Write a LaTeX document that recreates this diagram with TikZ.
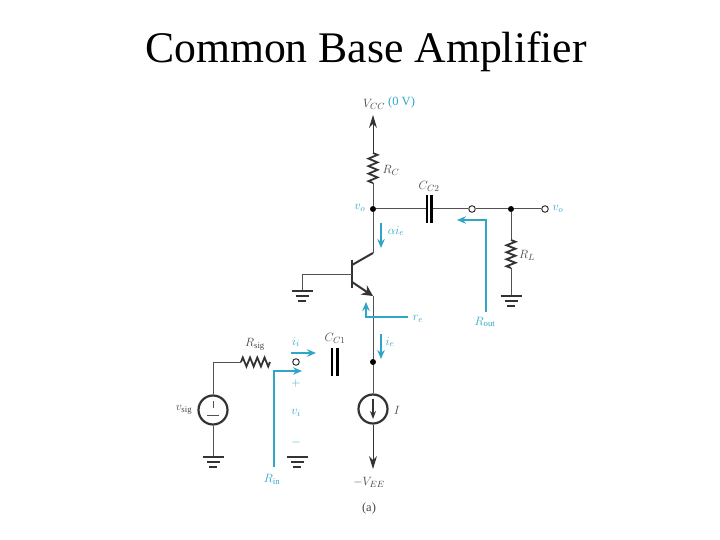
\documentclass[tikz,border=0pt]{standalone}
\usepackage{fontspec}
\setmainfont{Liberation Serif}
\usetikzlibrary{arrows.meta,decorations.pathmorphing}
\definecolor{wireblue}{HTML}{2FA6C8}
\definecolor{ink}{HTML}{333333}
\tikzset{
  wire/.style={draw=ink!85,line width=1pt},
  heavy/.style={draw=ink,line width=2pt},
  zig/.style={draw=ink,line width=1.8pt,decorate,decoration={zigzag,amplitude=4.5pt,segment length=#1}},
  flow/.style={draw=wireblue,line width=1.15pt,-{Stealth[length=9pt,width=7.5pt]}},
  supply/.style={draw=ink,line width=1pt,-{Stealth[length=13pt,width=8pt]}},
  dotn/.style={circle,fill=black,inner sep=0pt,minimum size=6pt},
  opend/.style={circle,draw=ink,fill=white,line width=1pt,inner sep=0pt,minimum size=6.5pt},
  srcn/.style={circle,draw=ink,line width=2.2pt,fill=white,inner sep=0pt,minimum size=29pt},
  plate/.style={draw=black,line width=2.4pt},
  lab/.style={inner sep=0pt,text=ink!90,font=\fontsize{12.5}{14}\selectfont},
  blab/.style={inner sep=0pt,text=wireblue,font=\fontsize{12.5}{14}\selectfont},
  gbar/.style={draw=ink,line width=1.8pt},
}
\newcommand{\gnd}[2]{%
  \draw[gbar] (#1-10.5,#2) -- (#1+10.5,#2);
  \draw[gbar,line width=2.2pt] (#1-6.5,#2+5) -- (#1+6.5,#2+5);
  \draw[gbar,line width=2.2pt] (#1-4,#2+10) -- (#1+4,#2+10);
}
\begin{document}
\begin{tikzpicture}[x=1pt,y=-1pt]
\useasboundingbox (0,0) rectangle (720,540);
\node[inner sep=0pt,font=\fontsize{43.7}{46}\selectfont,text=black] (title) at (366,52) {Common Base Amplifier};

% nodes and coordinates
\coordinate (vcc) at (373,115);
\coordinate (rct) at (373,153);
\coordinate (rcb) at (373,183);
\node[dotn] (vo) at (373,209) {};
\coordinate (col) at (373,253);
\coordinate (colb) at (352,265);
\coordinate (bt) at (352,260);
\coordinate (bb) at (352,288);
\coordinate (bm) at (352,274);
\coordinate (bg) at (302,274);
\coordinate (bgd) at (302,291);
\coordinate (emb) at (352,282);
\coordinate (em) at (373,296);
\node[dotn] (ej) at (373,362) {};
\node[srcn] (isrc) at (373,409) {};
\coordinate (vee) at (373,469);
\node[srcn] (vsrc) at (213,410) {};
\coordinate (vtop) at (213,362);
\coordinate (rst) at (241,362);
\coordinate (rse) at (270,362);
\coordinate (vgd) at (213,457);
\node[opend] (in) at (296,362) {};
\coordinate (c2a) at (427,209);
\coordinate (c2b) at (431,209);
\node[opend] (o1) at (472,209) {};
\node[dotn] (oj) at (511,209) {};
\node[opend] (o2) at (545,209) {};
\coordinate (rlt) at (511,240);
\coordinate (rlb) at (511,268);
\coordinate (rlg) at (511,296);

% wires
\draw[supply] (rct) -- (vcc);
\draw[wire] (rcb) -- (vo);
\draw[wire] (vo) -- (col);
\draw[heavy] (col) -- (colb);
\draw[heavy,line width=2.2pt] (bt) -- (bb);
\draw[wire] (bg) -- (bm);
\draw[wire] (bg) -- (bgd);
\draw[heavy,-{Stealth[length=11pt,width=11pt]}] (emb) -- (em);
\draw[wire] (em) -- (ej);
\draw[wire] (ej) -- (isrc);
\draw[supply] (isrc) -- (vee);
\draw[wire] (vsrc) -- (vtop) -- (rst);
\draw[wire] (vsrc) -- (vgd);
\draw[wire] (vo) -- (c2a);
\draw[wire] (c2b) -- (o1);
\draw[wire] (o1) -- (oj);
\draw[wire] (oj) -- (o2);
\draw[wire] (oj) -- (rlt);
\draw[wire] (rlb) -- (rlg);

% resistors
\draw[zig=7.5pt] (rct) -- (rcb);
\draw[zig=7pt] (rlt) -- (rlb);
\draw[zig=7.25pt] (rst) -- (rse);

% capacitors
\draw[plate] (427,195) -- (427,223);
\draw[plate] (431.5,195) -- (431.5,223);
\draw[plate] (332,348) -- (332,376);
\draw[plate] (337.5,348) -- (337.5,376);

% grounds
\gnd{302}{291}
\gnd{511}{296}
\gnd{213}{457}
\gnd{297}{457}

% source interiors
\draw[wire] (213,401) -- (213,408);
\draw[wire] (207,415) -- (219,415);
\draw[draw=ink,line width=1.2pt,-{Stealth[length=8pt,width=6pt]}] (373,399) -- (373,419);

% blue current and resistance markers
\draw[flow] (381,223) -- (381,248);
\draw[flow] (381,334) -- (381,359);
\draw[flow] (291,353) -- (316,353);
\coordinate (rea) at (408,317);
\coordinate (reb) at (366,317);
\coordinate (rec) at (366,302);
\draw[flow] (rea) -- (reb) -- (rec);
\coordinate (ra) at (486,312);
\coordinate (rb) at (486,220);
\coordinate (rc) at (457,220);
\draw[flow] (ra) -- (rb) -- (rc);
\coordinate (ia) at (274,467);
\coordinate (ib) at (274,371);
\coordinate (ic) at (302,371);
\draw[flow] (ia) -- (ib) -- (ic);

% labels
\node[lab,anchor=west] (lvcc) at (363,104) {$V_{CC}$};
\node[blab,anchor=west] (l0v) at (388,102) {(0 V)};
\node[lab] (lrc) at (391,170) {$R_C$};
\node[lab] (lcc2) at (429,186) {$C_{C2}$};
\node[blab] (lvo) at (360,208) {$v_o$};
\node[blab] (lvo2) at (558,209) {$v_o$};
\node[blab] (lai) at (396,231) {$\alpha i_e$};
\node[lab] (lrl) at (527,255) {$R_L$};
\node[blab] (lre) at (418,319) {$r_e$};
\node[blab] (lrout) at (485,322) {$R_{\mathrm{out}}$};
\node[blab] (lie) at (390,342) {$i_e$};
\node[blab] (lii) at (296,342) {$i_i$};
\node[lab] (lcc1) at (335,338) {$C_{C1}$};
\node[lab] (lrs) at (255,344) {$R_{\mathrm{sig}}$};
\node[lab] (lvs) at (184,410) {$v_{\mathrm{sig}}$};
\node[blab] (lplus) at (296,383) {$+$};
\node[blab] (lvi) at (296,413) {$v_i$};
\node[blab] (lminus) at (296,442) {$-$};
\node[lab] (li) at (397,410) {$I$};
\node[blab] (lrin) at (272,479) {$R_{\mathrm{in}}$};
\node[lab] (lvee) at (369,482) {$-V_{EE}$};
\node[lab] (la) at (369,508) {(a)};
\end{tikzpicture}
\end{document}
